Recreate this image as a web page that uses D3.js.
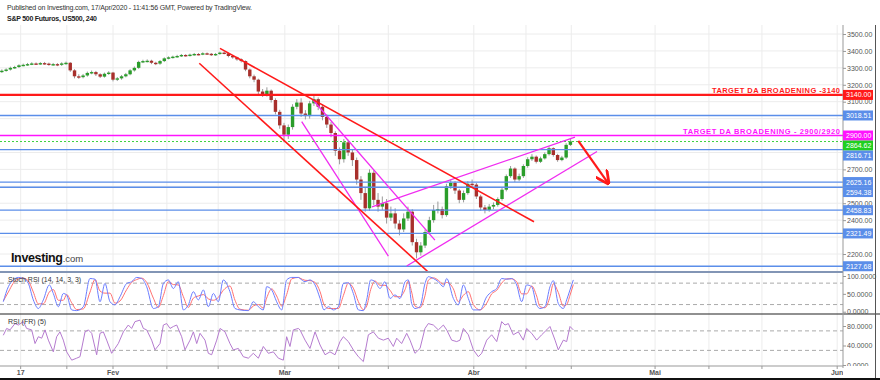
<!DOCTYPE html>
<html>
<head>
<meta charset="utf-8">
<script src="https://cdn.jsdelivr.net/npm/d3@7"></script>
<style>
body { margin: 0; background: #fff; }
svg { display: block; font-family: "Liberation Sans", Arial, sans-serif; }
</style>
</head>
<body>
<div id="chart"></div>
<script>
// S&P 500 futures, US500 240 — two bars per trading day, day 0 = 13 Jan 2020
var barStart = 2, barStep = 0.5;
var firstOpen = 3278;
var closes = [3283,3290,3300,3305,3315,3318,3322,3326,3324,3328,
3325,3320,3322,3318,3326,3330,3285,3250,3245,3255,
3270,3275,3262,3248,3265,3272,3230,3238,3250,3262,
3285,3300,3335,3340,3342,3330,3325,3340,3356,3362,
3366,3370,3376,3372,3378,3382,3380,3386,3383,3376,
3382,3390,3386,3370,3362,3350,3340,3290,3250,3230,
3160,3145,3165,3110,3040,2960,2905,2950,3070,3095,
3030,3015,3090,3115,3070,3010,2965,2915,2810,2760,
2860,2800,2755,2640,2560,2470,2680,2520,2480,2500,
2415,2440,2380,2345,2410,2450,2270,2210,2250,2330,
2400,2460,2465,2430,2600,2620,2575,2520,2560,2615,
2610,2540,2475,2460,2480,2490,2525,2580,2660,2705,
2640,2660,2720,2760,2775,2745,2765,2790,2825,2785,
2755,2770,2845,2865];
var highs = [3291,3297,3307,3312,3321,3325,3329,3333,3332,3334,
3335,3331,3329,3328,3333,3337,3334,3292,3262,3264,
3278,3284,3282,3268,3272,3280,3276,3246,3258,3270,
3292,3308,3342,3348,3350,3348,3336,3346,3362,3368,
3372,3377,3382,3381,3384,3388,3387,3392,3391,3388,
3388,3396,3397,3390,3376,3366,3356,3344,3296,3260,
3236,3175,3185,3172,3120,3052,2975,2965,3085,3115,
3120,3050,3105,3135,3125,3085,3025,2980,2925,2830,
2880,2875,2820,2770,2660,2590,2700,2695,2560,2540,
2525,2480,2470,2400,2440,2480,2465,2290,2270,2345,
2420,2490,2510,2480,2615,2640,2630,2585,2575,2630,
2640,2620,2550,2490,2495,2505,2535,2590,2670,2720,
2712,2675,2730,2772,2790,2782,2775,2800,2835,2830,
2792,2780,2855,2880];
var lows = [3270,3277,3284,3294,3299,3309,3312,3316,3318,3317,
3318,3312,3313,3310,3311,3318,3276,3238,3235,3238,
3248,3262,3252,3240,3242,3258,3220,3222,3230,3244,
3256,3278,3294,3328,3332,3322,3316,3318,3334,3350,
3355,3360,3364,3366,3367,3372,3374,3375,3377,3370,
3371,3377,3380,3362,3354,3342,3332,3280,3238,3215,
3145,3128,3130,3095,3025,2940,2860,2880,2935,3055,
3010,2995,3000,3075,3050,2990,2945,2890,2780,2730,
2740,2780,2720,2610,2520,2450,2455,2490,2450,2460,
2380,2395,2350,2310,2330,2395,2250,2174,2190,2235,
2315,2385,2440,2410,2420,2585,2555,2500,2505,2550,
2595,2525,2455,2440,2450,2465,2480,2515,2570,2650,
2625,2630,2650,2710,2750,2735,2738,2758,2782,2775,
2745,2748,2762,2838];

// Stoch RSI (14,14,3,3)
var stochDays = [2.17,2.76,3.34,3.93,4.51,5.10,5.68,6.27,6.85,7.55,8.02,8.61,9.19,9.58,10.17,10.75,11.53,12.31,12.90,13.48,
14.06,14.65,15.23,15.82,16.60,17.18,17.77,18.35,18.94,19.72,20.30,20.89,21.47,22.06,22.64,23.23,23.81,24.40,24.98,25.57,
26.15,26.74,27.32,27.90,28.68,29.27,29.85,30.83,31.41,32.00,32.58,32.97,33.56,34.14,34.73,35.31,35.90,36.68,
36.87,37.46,38.04,38.63,39.22,39.68,40.19,40.77,41.36,41.94,42.53,43.11,43.70,44.28,44.67,45.14,45.65,46.23,46.81,47.40,
47.98,48.57,49.16,49.54,49.93,50.32,50.91,51.49,51.88,52.47,53.05,53.64,54.03,54.81,55.39,55.98,56.56,57.15,57.93,58.71,
59.29,59.88,60.46,61.05,61.63,62.21,62.80,63.38,63.97,64.55,64.94,65.52,66.11,66.50,67.08,67.67,68.06,68.45,68.84];
var stochK = [28,70,89,96,93,79,33,9,33,75,51,14,51,47,5,3,14,93,91,28,
79,28,19,42,79,84,96,93,70,9,14,79,89,65,84,5,19,56,33,61,
14,51,28,89,56,9,5,3,28,14,5,70,61,28,5,89,96,96,
93,84,89,75,37,5,14,5,14,79,81,51,5,3,33,89,84,65,84,37,
47,37,84,89,23,9,14,79,98,93,84,70,93,37,19,75,37,5,5,42,
56,65,93,91,93,75,28,75,70,19,9,14,70,87,23,9,33,61,89];
var stochD = [30,55,80,92,94,86,55,22,22,55,62,32,32,48,25,6,8,55,90,58,
52,52,24,30,62,82,90,94,82,38,12,45,84,76,75,42,12,38,44,48,
36,32,40,60,72,32,7,4,16,20,10,38,64,44,16,48,92,96,
94,88,87,82,56,20,9,9,9,45,80,66,28,6,16,62,86,74,74,60,
42,42,62,86,55,16,11,45,88,95,88,77,82,64,28,46,56,20,5,24,
50,60,80,92,92,84,50,50,72,44,14,11,42,78,54,16,20,46,76];

// RSI (FR) (5)
var rsiDays = [2.17,2.56,2.95,3.54,3.93,4.51,4.90,5.49,5.88,6.27,6.66,7.05,7.44,8.02,8.41,8.80,9.19,9.58,10.17,10.75,
11.14,11.73,12.12,12.51,13.09,13.48,13.87,14.26,14.84,15.23,15.62,16.21,16.79,17.18,17.57,18.16,18.55,18.94,19.52,19.91,
20.50,20.89,21.28,21.67,22.06,22.45,23.03,23.42,24.01,24.40,24.79,25.18,25.76,26.15,26.54,27.13,27.52,28.10,28.68,29.07,
29.66,30.24,30.83,31.41,32.00,32.58,33.17,33.75,34.34,34.92,35.31,35.70,36.09,36.68,
36.87,37.46,38.04,38.63,39.22,39.80,40.38,40.97,41.55,41.94,42.53,43.11,43.70,44.28,44.87,45.45,46.04,46.62,47.20,47.79,
48.18,48.76,49.35,49.74,50.32,50.91,51.49,51.88,52.47,53.05,53.64,54.03,54.61,55.20,55.59,55.98,56.56,57.15,57.73,58.12,
58.71,59.29,59.88,60.46,60.85,61.24,61.82,62.41,62.99,63.38,63.97,64.55,65.14,65.72,66.11,66.70,67.08,67.67,68.06,68.45,68.84];
var rsiValues = [61,75,72,85,82,89,75,72,44,58,55,72,51,27,58,68,51,27,10,14,
17,68,72,65,21,65,68,51,24,34,44,68,82,75,89,92,75,72,51,31,
44,82,85,75,79,82,58,31,51,68,44,65,51,24,21,51,75,68,44,31,
34,17,14,24,14,38,24,27,14,10,58,38,72,75,
72,51,34,68,41,21,27,21,48,58,48,31,17,7,62,68,55,51,55,38,
55,44,65,51,24,34,75,85,82,72,82,72,51,48,51,75,62,31,17,24,
51,62,48,89,82,85,62,68,51,75,65,51,62,72,79,51,31,51,48,79,72];

// levels and drawings (trading day, price)
var redLevels = [3140];
var magentaLevels = [2900];
var lastPrice = 2864.62;
var blueLevels = [3018.51, 2816.71, 2625.16, 2594.38, 2458.83, 2321.49, 2127.68];
var redTrends = [[[27.51, 3415], [64.24, 2391]], [[25.09, 3327], [51.84, 2095]]];
var magentaTrends = [[[38.39, 3110], [52.65, 2282]], [[37.07, 2982], [47.2, 2188]],
                     [[45.29, 2478], [69.03, 2891]], [[49.35, 2129], [71.61, 2806]]];
var arrowPts = [[69.42, 2869], [72.93, 2618]];

var priceTicks = d3.range(2200, 3600, 100);
var gridDays = [4.2, 9.6, 15, 21.3, 27.3, 35.1, 41.4, 47.2, 57.2, 63.3, 68.6, 78.4, 84.7, 90.9, 99.7];
var monthDays = [4.2, 15, 35.1, 57.2, 78.4, 99.7];
var monthNames = ["17", "Fev", "Mar", "Abr", "Mai", "Jun"];

var W = 880, H = 380, axisX = 843;
var svg = d3.select("#chart").append("svg").attr("width", W).attr("height", H);

var x = d3.scaleLinear().domain([15, 100]).range([113, 839.75]);
var y = d3.scaleLinear().domain([2200, 3500]).range([254, 34]);
var yStoch = d3.scaleLinear().domain([0, 100]).range([311.7, 276]);
var yRsi = d3.scaleLinear().domain([0, 80]).range([365, 326]);

var defs = svg.append("defs");
function clip(id, top, h, w) {
    defs.append("clipPath").attr("id", id).append("rect")
        .attr("x", 0).attr("y", top).attr("width", w).attr("height", h);
}
clip("cPrice", 25, 247, axisX);
clip("cStoch", 272, 42, axisX);
clip("cRsi", 314, 52, axisX);
clip("cStochAx", 272, 42, W);
clip("cRsiAx", 314, 52, W);
clip("cDates", 366, 14, axisX);

defs.append("marker").attr("id", "arrow").attr("viewBox", "0 0 10 10")
    .attr("refX", 9).attr("refY", 5).attr("markerWidth", 14).attr("markerHeight", 14)
    .attr("markerUnits", "userSpaceOnUse").attr("orient", "auto")
    .append("path").attr("d", "M0,0 L10,5 L0,10").attr("fill", "none")
    .attr("stroke", "#ff1a1a").attr("stroke-width", 2);

// header
svg.append("text").attr("x", 7).attr("y", 10).attr("font-size", 7).attr("fill", "#333")
    .attr("textLength", 245)
    .text("Published on Investing.com, 17/Apr/2020 - 11:41:56 GMT, Powered by TradingView.");
svg.append("text").attr("x", 7).attr("y", 21).attr("font-size", 7).attr("font-weight", "bold")
    .attr("fill", "#222").attr("textLength", 90).text("S&P 500 Futuros, US500, 240");

// grid
svg.append("g").selectAll("line").data(gridDays).enter().append("line")
    .attr("x1", d => x(d)).attr("x2", d => x(d)).attr("y1", 25).attr("y2", 366)
    .attr("stroke", "#ececec");
svg.append("g").selectAll("line").data(priceTicks).enter().append("line")
    .attr("x1", 0).attr("x2", axisX).attr("y1", d => y(d)).attr("y2", d => y(d))
    .attr("stroke", "#ececec");

// Investing.com logo
var logo = svg.append("text").attr("x", 11).attr("y", 262);
logo.append("tspan").attr("font-size", 12.5).attr("font-weight", "bold").attr("fill", "#111")
    .attr("textLength", 52).text("Investing");
logo.append("tspan").attr("font-size", 9.5).attr("fill", "#444").text(".com");

// candles
var bars = closes.map(function(c, i) {
    return { d: barStart + i * barStep, o: i ? closes[i - 1] : firstOpen, h: highs[i], l: lows[i], c: c };
});
var price = svg.append("g").attr("clip-path", "url(#cPrice)");

price.append("g").selectAll("line").data(bars).enter().append("line")
    .attr("x1", b => x(b.d)).attr("x2", b => x(b.d))
    .attr("y1", b => y(b.h)).attr("y2", b => y(b.l))
    .attr("stroke", "#9a9a9a").attr("stroke-width", 1);
price.append("g").selectAll("rect").data(bars).enter().append("rect")
    .attr("x", b => x(b.d) - 1.7).attr("width", 3.4)
    .attr("y", b => y(Math.max(b.o, b.c)))
    .attr("height", b => Math.max(1.4, Math.abs(y(b.o) - y(b.c))))
    .attr("fill", b => b.c >= b.o ? "#2a9d2a" : "#a8302c");

// horizontal levels
function hline(v, color, w, dash) {
    price.append("line").attr("x1", 0).attr("x2", axisX).attr("y1", y(v)).attr("y2", y(v))
        .attr("stroke", color).attr("stroke-width", w).attr("stroke-dasharray", dash || null);
}
blueLevels.forEach(v => hline(v, "#5b8ee9", 1.3));
hline(lastPrice, "#3ed13e", 1, "2,2");
magentaLevels.forEach(v => hline(v, "#ff14ff", 1.5));
redLevels.forEach(v => hline(v, "#ff1a1a", 2.2));

// trendlines
var seg = d3.line().x(p => x(p[0])).y(p => y(p[1]));
price.append("g").selectAll("path").data(magentaTrends).enter().append("path")
    .attr("d", seg).attr("stroke", "#f02cf0").attr("stroke-width", 1.3).attr("fill", "none");
price.append("g").selectAll("path").data(redTrends).enter().append("path")
    .attr("d", seg).attr("stroke", "#ff1a1a").attr("stroke-width", 1.6).attr("fill", "none");
price.append("path").attr("d", seg(arrowPts)).attr("stroke", "#ff1a1a").attr("stroke-width", 2.2)
    .attr("fill", "none").attr("marker-end", "url(#arrow)");

// target notes
svg.append("text").attr("x", 840).attr("y", y(redLevels[0]) - 2).attr("text-anchor", "end")
    .attr("font-size", 7.5).attr("font-weight", "bold").attr("fill", "#ff1a1a")
    .attr("textLength", 128).text("TARGET DA BROADENING -3140");
svg.append("text").attr("x", 840).attr("y", y(magentaLevels[0]) - 2).attr("text-anchor", "end")
    .attr("font-size", 7.5).attr("font-weight", "bold").attr("fill", "#ff14ff")
    .attr("textLength", 157).text("TARGET DA BROADENING - 2900/2920");

// stoch RSI panel
var stoch = svg.append("g").attr("clip-path", "url(#cStoch)");
[20, 80].forEach(function(v) {
    stoch.append("line").attr("x1", 0).attr("x2", axisX).attr("y1", yStoch(v)).attr("y2", yStoch(v))
        .attr("stroke", "#aaa").attr("stroke-dasharray", "4,3");
});
var kLine = d3.line().x((d, i) => x(stochDays[i])).y(d => yStoch(d)).curve(d3.curveMonotoneX);
stoch.append("path").attr("d", kLine(stochD)).attr("stroke", "#ff7070").attr("fill", "none").attr("stroke-width", 1);
stoch.append("path").attr("d", kLine(stochK)).attr("stroke", "#6b7dff").attr("fill", "none").attr("stroke-width", 1);
svg.append("text").attr("x", 8).attr("y", 282).attr("font-size", 7).attr("fill", "#333").text("Stoch RSI (14, 14, 3, 3)");

// RSI panel
var rsi = svg.append("g").attr("clip-path", "url(#cRsi)");
[30, 70].forEach(function(v) {
    rsi.append("line").attr("x1", 0).attr("x2", axisX).attr("y1", yRsi(v)).attr("y2", yRsi(v))
        .attr("stroke", "#aaa").attr("stroke-dasharray", "4,3");
});
var rLine = d3.line().x((d, i) => x(rsiDays[i])).y(d => yRsi(d));
rsi.append("path").attr("d", rLine(rsiValues)).attr("stroke", "#b57bcf").attr("fill", "none").attr("stroke-width", 1);
svg.append("text").attr("x", 8).attr("y", 324).attr("font-size", 7).attr("fill", "#333").text("RSI (FR) (5)");

// panel borders
svg.append("line").attr("x1", 0).attr("x2", axisX).attr("y1", 272).attr("y2", 272).attr("stroke", "#8295b5").attr("stroke-width", 2);
svg.append("line").attr("x1", 0).attr("x2", W).attr("y1", 314).attr("y2", 314).attr("stroke", "#222").attr("stroke-width", 1.2);
svg.append("line").attr("x1", 0).attr("x2", axisX).attr("y1", 366).attr("y2", 366).attr("stroke", "#999");
svg.append("line").attr("x1", axisX).attr("x2", axisX).attr("y1", 25).attr("y2", 368).attr("stroke", "#999");
svg.append("line").attr("x1", 875.5).attr("x2", 875.5).attr("y1", 25).attr("y2", H).attr("stroke", "#555");
svg.append("line").attr("x1", 0).attr("x2", W).attr("y1", 379).attr("y2", 379).attr("stroke", "#111").attr("stroke-width", 2);

// value boxes on the axis: stacked so they never overlap
var tags = blueLevels.map(v => ({ v: v, c: "#5b8ee9" }))
    .concat(redLevels.map(v => ({ v: v, c: "#ff1a1a" })))
    .concat(magentaLevels.map(v => ({ v: v, c: "#ff14ff" })))
    .concat([{ v: lastPrice, c: "#1fcf1f" }]);
tags.sort((a, b) => b.v - a.v);
var prevY = -Infinity;
tags.forEach(function(t) {
    t.y = Math.max(y(t.v), prevY + 10);
    prevY = t.y;
});

// right axes (tick labels fully behind value boxes are left out)
function styleAxis(g) {
    g.select(".domain").remove();
    g.selectAll("line").attr("stroke", "#999");
    g.selectAll("text").attr("fill", "#555").attr("font-size", 7).attr("font-family", null);
}
var freeTicks = priceTicks.filter(p => tags.every(t => Math.abs(t.y - y(p)) > 6));
svg.append("g").attr("transform", "translate(" + axisX + ",0)")
    .call(d3.axisRight(y).tickValues(freeTicks).tickFormat(d3.format(".2f")).tickSize(3).tickPadding(1))
    .call(styleAxis);
svg.append("g").attr("clip-path", "url(#cStochAx)").append("g").attr("transform", "translate(" + axisX + ",0)")
    .call(d3.axisRight(yStoch).tickValues([0, 50, 100]).tickFormat(d3.format(".4f")).tickSize(3).tickPadding(1))
    .call(styleAxis);
svg.append("g").attr("clip-path", "url(#cRsiAx)").append("g").attr("transform", "translate(" + axisX + ",0)")
    .call(d3.axisRight(yRsi).tickValues([0, 40, 80]).tickFormat(d3.format(".4f")).tickSize(3).tickPadding(1))
    .call(styleAxis);

var tagG = svg.append("g").selectAll("g").data(tags).enter().append("g");
tagG.append("rect").attr("x", axisX).attr("y", t => t.y - 5).attr("width", 30).attr("height", 10)
    .attr("fill", t => t.c);
tagG.append("text").attr("x", axisX + 3).attr("y", t => t.y + 2.5).attr("font-size", 7).attr("fill", "#fff")
    .text(t => d3.format(".2f")(t.v));

// date axis
svg.append("g").selectAll("line").data(gridDays).enter().append("line")
    .attr("x1", d => x(d)).attr("x2", d => x(d)).attr("y1", 366).attr("y2", 369).attr("stroke", "#999");
svg.append("g").attr("clip-path", "url(#cDates)").selectAll("text").data(monthDays).enter().append("text")
    .attr("x", d => x(d)).attr("y", 375).attr("text-anchor", "middle")
    .attr("font-size", 7).attr("font-weight", "bold").attr("fill", "#555")
    .text((d, i) => monthNames[i]);
</script>
</body>
</html>
